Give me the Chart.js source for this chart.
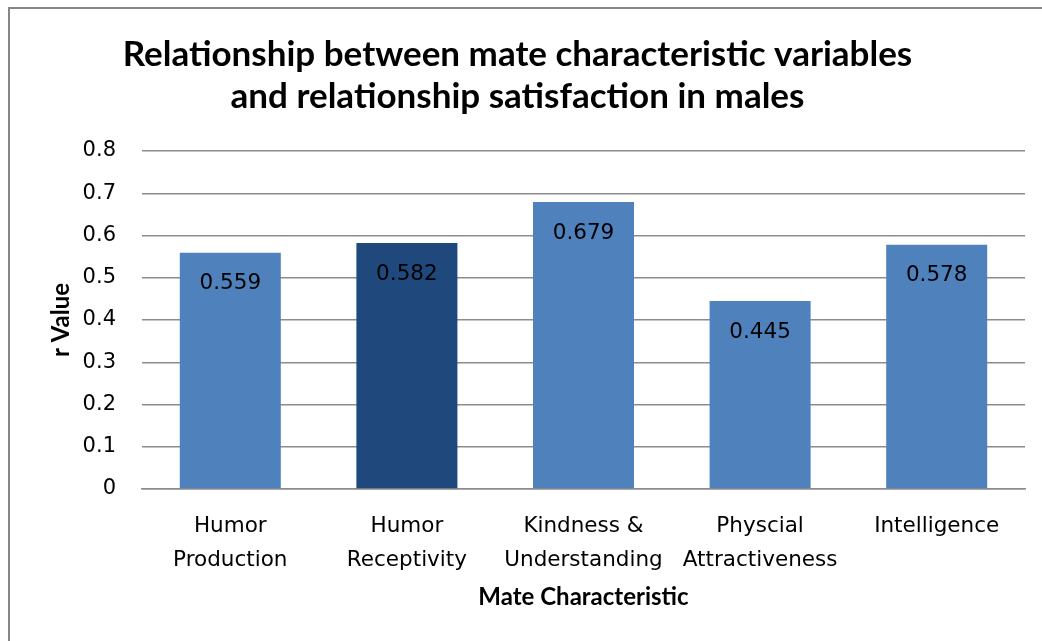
<!DOCTYPE html>
<html>
<head>
<meta charset="utf-8">
<script src="https://cdn.jsdelivr.net/npm/chart.js@4/dist/chart.umd.min.js"></script>
<style>
  html, body { margin: 0; padding: 0; background: #fff; }
  #wrap { width: 1042px; height: 641px; position: relative; }
</style>
</head>
<body>
<div id="wrap"><canvas id="myChart" width="1042" height="641"></canvas></div>
<script>
  const categories = [
    ['Humor', 'Production'],
    ['Humor', 'Receptivity'],
    ['Kindness &', 'Understanding'],
    ['Physcial', 'Attractiveness'],
    ['Intelligence'],
  ];
  const rValues = [0.559, 0.582, 0.679, 0.445, 0.578];
  const yTickLabels = ['0', '0.1', '0.2', '0.3', '0.4', '0.5', '0.6', '0.7', '0.8'];

  const barColors = ['#4F81BD', '#1F497D', '#4F81BD', '#4F81BD', '#4F81BD'];

  // white bg + the grey frame on top/left
  const frame = {
    id: 'frame',
    beforeDraw: (chart) => {
      const ctx = chart.ctx;
      ctx.save();
      ctx.fillStyle = '#fff';
      ctx.fillRect(0, 0, chart.width, chart.height);
      ctx.strokeStyle = '#868686';
      ctx.lineWidth = 2;
      ctx.beginPath();
      ctx.moveTo(9, chart.height);
      ctx.lineTo(9, 8);
      ctx.lineTo(chart.width, 8);
      ctx.stroke();
      ctx.restore();
    }
  };

  // value labels inside the bars, near the top
  const barLabels = {
    id: 'barLabels',
    afterDatasetsDraw: (chart) => {
      const ctx = chart.ctx;
      const meta = chart.getDatasetMeta(0);
      ctx.save();
      ctx.font = '21.5px "DejaVu Sans"';
      ctx.fillStyle = '#000';
      ctx.textAlign = 'center';
      ctx.textBaseline = 'middle';
      meta.data.forEach((bar, i) => {
        ctx.fillText(String(rValues[i]), bar.x, bar.y + 31);
      });
      ctx.restore();
    }
  };

  new Chart(document.getElementById('myChart').getContext('2d'), {
    type: 'bar',
    data: {
      labels: categories,
      datasets: [{
        data: rValues,
        backgroundColor: barColors,
        categoryPercentage: 1,
        barPercentage: 0.572,
      }]
    },
    options: {
      responsive: false,
      animation: false,
      layout: {
        padding: { left: 10, right: 17, top: 10, bottom: 22 }
      },
      scales: {
        y: {
          min: 0,
          max: 0.8,
          afterFit: (scale) => { scale.width = 132; },
          border: { display: false },
          grid: {
            color: '#8c8c8c',
            lineWidth: 1.5,
            drawTicks: false,
          },
          ticks: {
            stepSize: 0.1,
            padding: 26,
            color: '#000',
            font: { family: 'DejaVu Sans', size: 21 },
            callback: (v, i) => yTickLabels[i],
          },
          title: {
            display: true,
            text: 'r Value',
            color: '#000',
            font: { family: 'Lato', size: 24, weight: 'bold' },
            padding: { top: 37, bottom: 0 },
          }
        },
        x: {
          afterFit: (scale) => { scale.height = 130; },
          border: { color: '#8c8c8c', width: 1.5 },
          grid: { display: false, drawTicks: false },
          ticks: {
            padding: 20,
            color: '#000',
            font: { family: 'DejaVu Sans', size: 21.5, lineHeight: 1.58 },
            maxRotation: 0,
            autoSkip: false,
          },
          title: {
            display: true,
            text: 'Mate Characteristic',
            color: '#000',
            font: { family: 'Lato', size: 24, weight: 'bold' },
            padding: { top: 0, bottom: 7 },
          }
        }
      },
      plugins: {
        legend: { display: false },
        tooltip: { enabled: false },
        title: {
          display: true,
          text: ['Relationship between mate characteristic variables', 'and relationship satisfaction in males'],
          color: '#000',
          font: { family: 'Lato', size: 35, weight: 'bold', lineHeight: 1.2 },
          padding: { top: 24, bottom: 33 },
        }
      }
    },
    plugins: [frame, barLabels]
  });
</script>
</body>
</html>
